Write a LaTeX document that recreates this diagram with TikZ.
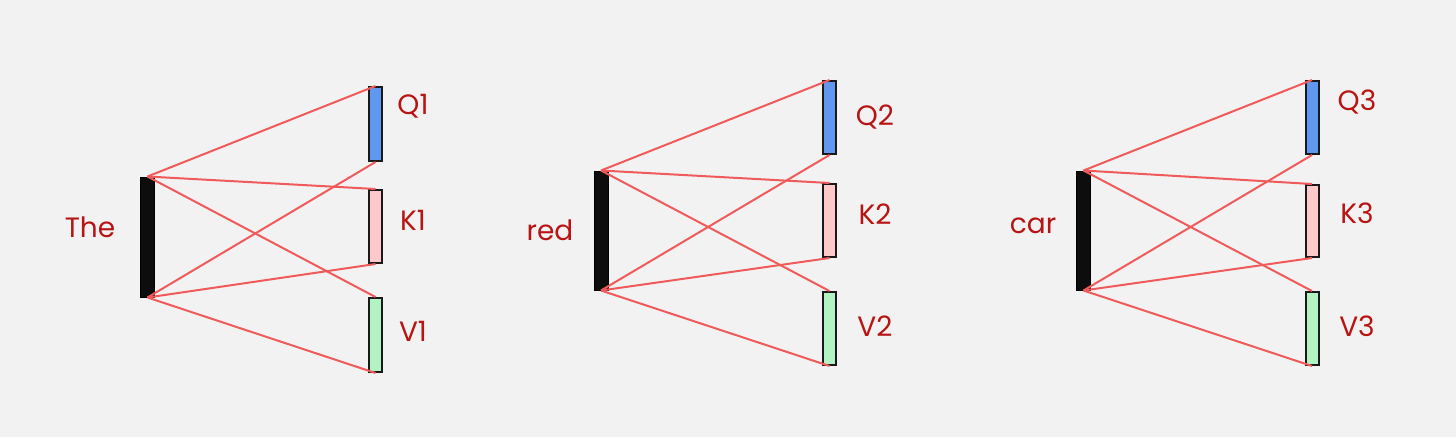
\documentclass[tikz,border=0pt]{standalone}
\usepackage{fontspec}
\setmainfont{Poppins}
\definecolor{bg}{HTML}{F2F2F2}
\definecolor{txt}{HTML}{B81414}
\definecolor{edge}{HTML}{F05A5A}
\definecolor{qcol}{HTML}{5F98EE}
\definecolor{kcol}{HTML}{FFC9C9}
\definecolor{vcol}{HTML}{B2F2C3}
\tikzset{
  barbox/.style={draw=black, fill=black!95, line width=1pt, minimum width=14pt, inner sep=0pt},
  vecbox/.style={draw=black!90, line width=2pt, minimum width=13pt, inner sep=0pt},
  conn/.style={draw=edge, line width=2pt},
  lbl/.style={text=txt, font=\fontsize{28}{28}\selectfont, inner sep=0pt},
}
\begin{document}
\begin{tikzpicture}[x=1pt,y=-1pt]
\fill[bg] (0,0) rectangle (1456,437);
\useasboundingbox (0,0) rectangle (1456,437);
\foreach \g/\bx/\bt/\bb/\rx/\qt/\qb/\kt/\kb/\vt/\vb/\w/\wx/\wy/\lx/\qy/\ky/\vy in {
  1/147.5/177/297/375.5/87/161/190/263/298/372/The/90/227/413/106/220/331,
  2/601/171/290/829.5/81/154/184/257/292/365/red/550/230/875/117/214/326,
  3/1083.5/171/290/1312/81/154/185/257/292/365/car/1033/226/1357/102/213/326}{
  \node[barbox, minimum height={\bb-\bt}] (b\g) at (\bx,{(\bt+\bb)/2}) {};
  \node[vecbox, fill=qcol, minimum height={\qb-\qt}] (q\g) at (\rx,{(\qt+\qb)/2}) {};
  \node[vecbox, fill=kcol, minimum height={\kb-\kt}] (k\g) at (\rx,{(\kt+\kb)/2}) {};
  \node[vecbox, fill=vcol, minimum height={\vb-\vt}] (v\g) at (\rx,{(\vt+\vb)/2}) {};
  \node[lbl] (w\g) at (\wx,\wy) {\w};
  \node[lbl] (lq\g) at (\lx,\qy) {Q\g};
  \node[lbl] (lk\g) at (\lx,\ky) {K\g};
  \node[lbl] (lv\g) at (\lx,\vy) {V\g};
  \draw[conn] (b\g.north) -- (q\g.north);
  \draw[conn] (b\g.north) -- (k\g.north);
  \draw[conn] (b\g.north) -- (v\g.north);
  \draw[conn] (b\g.south) -- (q\g.south);
  \draw[conn] (b\g.south) -- (k\g.south);
  \draw[conn] (b\g.south) -- (v\g.south);
}
\end{tikzpicture}
\end{document}
